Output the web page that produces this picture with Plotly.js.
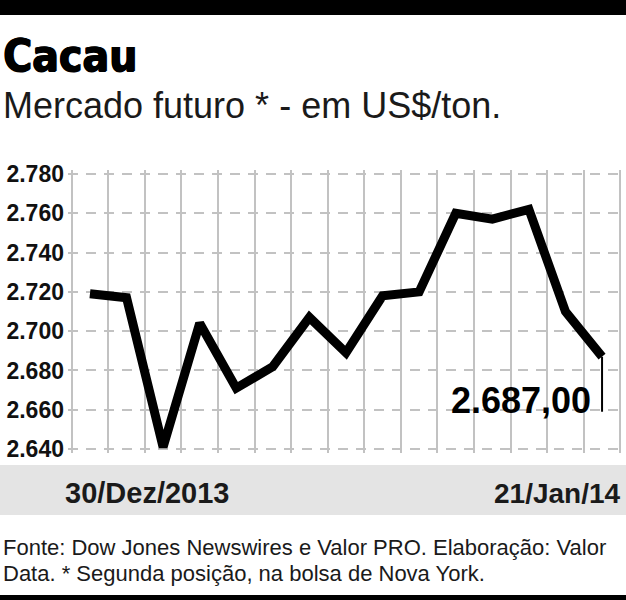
<!DOCTYPE html>
<html>
<head>
<meta charset="utf-8">
<script src="https://cdn.plot.ly/plotly-3.0.1.min.js"></script>
<style>
  html, body { margin: 0; padding: 0; background: #ffffff; }
  #chart { width: 626px; height: 600px; }
</style>
</head>
<body>
<div id="chart"></div>
<script>
// ---- Data ----
const dates = ['30/Dez/2013', '31/Dez', '02/Jan', '03/Jan', '06/Jan', '07/Jan', '08/Jan',
               '09/Jan', '10/Jan', '13/Jan', '14/Jan', '15/Jan', '16/Jan', '17/Jan', '21/Jan/14'];
const prices = [2719, 2717, 2641, 2704, 2671, 2682, 2707, 2689, 2718, 2720, 2760, 2757, 2762, 2710, 2687];
const yTickValues = [2640, 2660, 2680, 2700, 2720, 2740, 2760, 2780];
const lastLabel = '2.687,00';
const calloutEnd = 2659;

const titleText = 'Cacau';
const subtitleText = 'Mercado futuro * - em US$/ton.';
const footLine1 = 'Fonte: Dow Jones Newswires e Valor PRO. Elaboração: Valor';
const footLine2 = 'Data. * Segunda posição, na bolsa de Nova York.';

// ---- Geometry helpers (pixel -> paper) ----
const L = 68, R = 624, T = 170, B = 453, W = 626, H = 600;
const px2x = p => (p - L) / (R - L);
const py2y = p => (B - p) / (B - T);

const xIdx = dates.map((d, i) => i);
const boundaries = [];
for (let i = 0; i <= dates.length; i++) boundaries.push(i - 0.5);

const trace = {
  x: xIdx,
  y: prices,
  type: 'scatter',
  mode: 'lines',
  line: { color: '#000000', width: 9 },
  cliponaxis: false,
  hoverinfo: 'skip'
};

const grid = '#c2c2c2';

const layout = {
  width: W, height: H,
  margin: { l: L, r: W - R, t: T, b: H - B, pad: 0 },
  paper_bgcolor: '#ffffff',
  plot_bgcolor: '#ffffff',
  separators: ',.',
  showlegend: false,
  xaxis: {
    range: [-0.6, dates.length - 0.4],
    tickmode: 'array',
    tickvals: boundaries,
    showticklabels: false,
    ticks: '',
    showgrid: true,
    gridcolor: grid,
    gridwidth: 2,
    zeroline: false,
    showline: false,
    fixedrange: true
  },
  yaxis: {
    range: [2638, 2782],
    tickmode: 'array',
    tickvals: yTickValues,
    tickformat: ',d',
    ticks: '',
    ticklabelstandoff: 3,
    tickfont: { family: 'Liberation Sans, Arial, sans-serif', size: 23, color: '#111111', weight: 'bold' },
    showgrid: true,
    gridcolor: grid,
    gridwidth: 2,
    griddash: '10px,8px',
    zeroline: false,
    showline: false,
    fixedrange: true
  },
  shapes: [
    { type: 'rect', xref: 'paper', yref: 'paper', x0: px2x(0), x1: px2x(W), y0: py2y(15), y1: py2y(0),
      fillcolor: '#000000', line: { width: 0 } },
    { type: 'rect', xref: 'paper', yref: 'paper', x0: px2x(0), x1: px2x(W), y0: py2y(600), y1: py2y(595),
      fillcolor: '#000000', line: { width: 0 } },
    { type: 'rect', xref: 'paper', yref: 'paper', x0: px2x(0), x1: px2x(W), y0: py2y(515), y1: py2y(465),
      fillcolor: '#e4e4e4', line: { width: 0 } },
    { type: 'line', xref: 'x', yref: 'y', x0: xIdx[xIdx.length - 1], x1: xIdx[xIdx.length - 1],
      y0: prices[prices.length - 1], y1: calloutEnd, line: { color: '#000000', width: 2 } }
  ],
  annotations: [
    { xref: 'paper', yref: 'paper', x: px2x(1), y: py2y(55), xanchor: 'left', yanchor: 'middle',
      text: titleText, showarrow: false,
      font: { family: 'DejaVu Sans Condensed, DejaVu Sans, sans-serif', size: 44, color: '#000000', weight: 'bold',
              shadow: '1px 0px 0px #000000, -0.5px 0px 0px #000000, 0px 0.8px 0px #000000' } },
    { xref: 'paper', yref: 'paper', x: px2x(1), y: py2y(106), xanchor: 'left', yanchor: 'middle',
      text: subtitleText, showarrow: false,
      font: { family: 'Liberation Sans, Arial, sans-serif', size: 36, color: '#1a1a1a' } },
    { xref: 'x', yref: 'y', x: 13.75, y: 2664.5, xanchor: 'right', yanchor: 'middle',
      text: lastLabel, showarrow: false,
      font: { family: 'Liberation Sans, Arial, sans-serif', size: 36, color: '#000000', weight: 'bold' } },
    { xref: 'paper', yref: 'paper', x: px2x(63), y: py2y(493), xanchor: 'left', yanchor: 'middle',
      text: dates[0], showarrow: false,
      font: { family: 'Liberation Sans, Arial, sans-serif', size: 29, color: '#1a1a1a', weight: 'bold' } },
    { xref: 'paper', yref: 'paper', x: px2x(623), y: py2y(493), xanchor: 'right', yanchor: 'middle',
      text: dates[dates.length - 1], showarrow: false,
      font: { family: 'Liberation Sans, Arial, sans-serif', size: 28, color: '#1a1a1a', weight: 'bold' } },
    { xref: 'paper', yref: 'paper', x: px2x(1), y: py2y(547), xanchor: 'left', yanchor: 'middle',
      text: footLine1, showarrow: false,
      font: { family: 'Liberation Sans, Arial, sans-serif', size: 22, color: '#1a1a1a' } },
    { xref: 'paper', yref: 'paper', x: px2x(1), y: py2y(573), xanchor: 'left', yanchor: 'middle',
      text: footLine2, showarrow: false,
      font: { family: 'Liberation Sans, Arial, sans-serif', size: 22, color: '#1a1a1a' } }
  ]
};

Plotly.newPlot('chart', [trace], layout, { staticPlot: true, displayModeBar: false });
</script>
</body>
</html>
